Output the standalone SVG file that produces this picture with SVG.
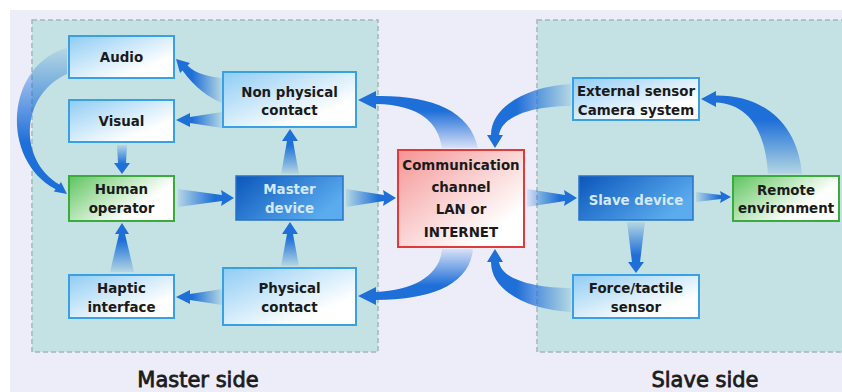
<svg xmlns="http://www.w3.org/2000/svg" width="842" height="392" viewBox="0 0 842 392">
<defs>
<style>
.t{font-family:"DejaVu Sans","Verdana",sans-serif;font-weight:bold;font-size:13.4px;fill:#1a1a1a;text-anchor:middle}
.tw{fill:#d3e8fc}
.side{font-family:"DejaVu Sans","Verdana",sans-serif;font-size:21px;fill:#1c1c1c;stroke:#1c1c1c;stroke-width:0.8;text-anchor:middle}
.panel{fill:#c4e2e4;stroke:#a3b6b8;stroke-width:1.5;stroke-dasharray:5 3}
.nb{fill:url(#gBlue);stroke:#39a0e4;stroke-width:2}
.ng{fill:url(#gGreen);stroke:#3bab3b;stroke-width:2}
.nd{stroke:#2a72c8;stroke-width:1.5}
.nr{fill:url(#gRed);stroke:#e03a3a;stroke-width:2}
.aR{fill:url(#fR)}.aL{fill:url(#fL)}.aU{fill:url(#fU)}.aD{fill:url(#fD)}
</style>
<linearGradient id="gBlue" x1="0" y1="0" x2="1" y2="1"><stop offset="0" stop-color="#8fccf4"/><stop offset="0.75" stop-color="#ffffff"/></linearGradient>
<linearGradient id="gGreen" x1="0" y1="0" x2="1" y2="0.6"><stop offset="0" stop-color="#5ec45e"/><stop offset="0.8" stop-color="#ffffff"/></linearGradient>
<linearGradient id="gRed" x1="0" y1="0" x2="1" y2="1"><stop offset="0" stop-color="#f49494"/><stop offset="0.8" stop-color="#ffffff"/></linearGradient>
<linearGradient id="gDark" x1="0" y1="0" x2="1" y2="0.5"><stop offset="0" stop-color="#0b56bc"/><stop offset="1" stop-color="#5aacee"/></linearGradient>
<linearGradient id="fR" x1="0" y1="0" x2="1" y2="0"><stop offset="0" stop-color="#1e6fd8" stop-opacity="0.1"/><stop offset="0.65" stop-color="#1e6fd8"/></linearGradient>
<linearGradient id="fL" x1="1" y1="0" x2="0" y2="0"><stop offset="0" stop-color="#1e6fd8" stop-opacity="0.1"/><stop offset="0.65" stop-color="#1e6fd8"/></linearGradient>
<linearGradient id="fU" x1="0" y1="1" x2="0" y2="0"><stop offset="0" stop-color="#1e6fd8" stop-opacity="0.1"/><stop offset="0.65" stop-color="#1e6fd8"/></linearGradient>
<linearGradient id="fD" x1="0" y1="0" x2="0" y2="1"><stop offset="0" stop-color="#1e6fd8" stop-opacity="0.1"/><stop offset="0.65" stop-color="#1e6fd8"/></linearGradient>
</defs>
<rect x="0" y="0" width="842" height="392" fill="#ffffff"/>
<rect x="10" y="10" width="832" height="382" fill="#ededfa"/>
<g id="panels">
<rect class="panel" x="32" y="20" width="346" height="332"/>
<rect class="panel" x="537" y="20" width="310" height="332"/>
</g>
<g id="connectors">
<path class="aR" d="M178,189 L222,195 L221,190 L234,198 L221,206 L222,201 L178,207 Z"/>
<path class="aR" d="M346,189 L384,195 L383,190 L396,198 L383,206 L384,201 L346,207 Z"/>
<path class="aR" d="M527,189 L565,195 L564,190 L577,198 L564,206 L565,201 L527,207 Z"/>
<path class="aR" d="M696,192 L721,195 L720,191 L731,197 L720,203 L721,199 L696,202 Z"/>
<path class="aD" d="M117,145 L127,145 L126,163 L130,163 L122,174 L114,163 L118,163 Z"/>
<path class="aU" d="M110,272 L134,272 L125,234 L129,234 L122,223 L115,234 L119,234 Z"/>
<path class="aU" d="M281,174 L299,174 L293,141 L298,141 L290,129 L282,141 L287,141 Z"/>
<path class="aU" d="M281,266 L299,266 L293,234 L298,234 L290,222 L282,234 L287,234 Z"/>
<path class="aL" d="M222,78 C210,77 196,74 187.5,65.5 L190,63 L176,59 L180,73 L182.5,70.5 C195,88 210,98 222,103 Z"/>
<path class="aL" d="M222,112 L190,117 L190,113 L176,120 L190,127 L190,123 L222,128 Z"/>
<path class="aL" d="M222,289 L190,294 L190,290 L176,297 L190,304 L190,300 L222,305 Z"/>
<path class="aD" d="M67,48 C5,65 0,160 55.6,189.2 L53.8,191.6 L67,194 L61,182 L59.2,184.4 C18,160 20,95 67,74 Z"/>
<path class="aU" d="M478,148 C470,110 430,95 376,96 L376,91 L358,100 L376,109 L376,104 C420,105 438,122 442,148 Z"/>
<path class="aD" d="M473,249 C470,285 430,300 376,300 L376,305 L358,296 L376,287 L376,292 C415,290 440,275 442,249 Z"/>
<path class="aL" d="M571,84 C530,86 491,105 491,135 L487,135 L495,148 L503,135 L499,135 C502,115 535,106 571,106 Z"/>
<path class="aL" d="M571,312 C530,310 491,292 491,262 L487,262 L495,249 L503,262 L499,262 C502,280 535,288 571,288 Z"/>
<path class="aU" d="M802,174 C798,125 765,95 716,95.5 L716,91 L701,99 L716,107 L716,102.5 C745,104 765,125 768,174 Z"/>
<path class="aD" d="M627,222 L645,222 L640,262 L644,262 L636,273 L628,262 L632,262 Z"/>
</g>
<g id="audio"><rect class="nb" x="69" y="36" width="105" height="42"/><text class="t" x="121.5" y="62">Audio</text></g>
<g id="visual"><rect class="nb" x="69" y="100" width="105" height="42"/><text class="t" x="121.5" y="126">Visual</text></g>
<g id="nonphysical"><rect class="nb" x="223" y="72" width="133" height="55"/><text class="t" x="289.5" y="97">Non physical</text><text class="t" x="289.5" y="115">contact</text></g>
<g id="human"><rect class="ng" x="69" y="176" width="105" height="45"/><text class="t" x="121.5" y="194">Human</text><text class="t" x="121.5" y="213">operator</text></g>
<g id="master"><rect class="nd" fill="url(#gDark)" x="236" y="176" width="107" height="44"/><text class="t tw" x="289.5" y="194">Master</text><text class="t tw" x="289.5" y="213">device</text></g>
<g id="haptic"><rect class="nb" x="69" y="275" width="105" height="43"/><text class="t" x="121.5" y="293">Haptic</text><text class="t" x="121.5" y="312">interface</text></g>
<g id="physical"><rect class="nb" x="223" y="268" width="133" height="57"/><text class="t" x="289.5" y="293">Physical</text><text class="t" x="289.5" y="312">contact</text></g>
<g id="comm"><rect class="nr" x="398" y="150" width="126" height="97"/><text class="t" x="461" y="170">Communication</text><text class="t" x="461" y="192">channel</text><text class="t" x="461" y="214">LAN or</text><text class="t" x="461" y="237">INTERNET</text></g>
<g id="external"><rect class="nb" x="573" y="78" width="126" height="42"/><text class="t" x="636" y="96">External sensor</text><text class="t" x="636" y="115">Camera system</text></g>
<g id="slave"><rect class="nd" fill="url(#gDark)" x="579" y="176" width="114" height="44"/><text class="t tw" x="636" y="205">Slave device</text></g>
<g id="remote"><rect class="ng" x="733" y="176" width="106" height="45"/><text class="t" x="786" y="195">Remote</text><text class="t" x="786" y="213">environment</text></g>
<g id="force"><rect class="nb" x="573" y="275" width="126" height="43"/><text class="t" x="636" y="293">Force/tactile</text><text class="t" x="636" y="312">sensor</text></g>
<text class="side" x="198" y="387">Master side</text>
<text class="side" x="705" y="387">Slave side</text>
</svg>
